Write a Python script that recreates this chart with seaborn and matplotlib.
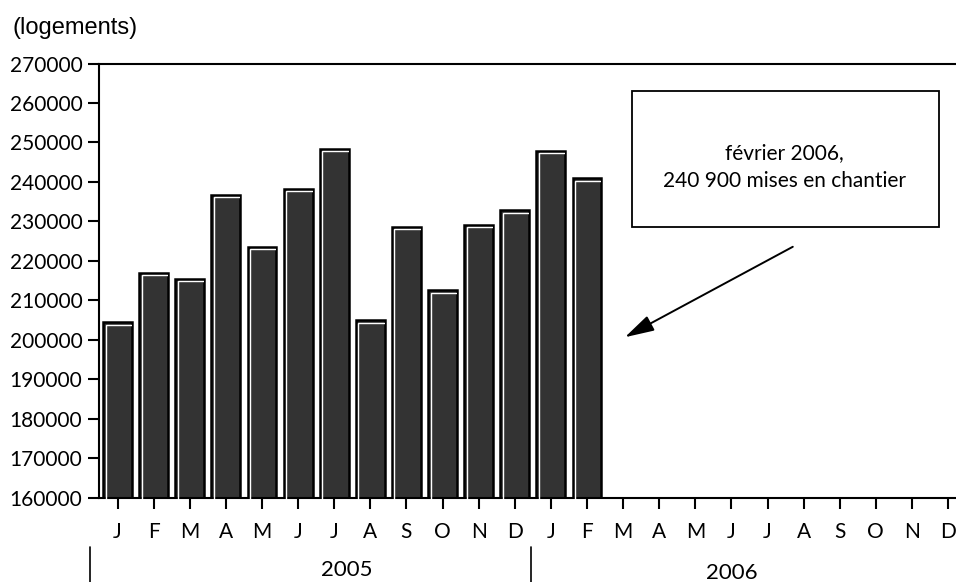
import numpy as np
import pandas as pd
import matplotlib
matplotlib.use("Agg")
import matplotlib.pyplot as plt
import matplotlib.transforms as mtrans
from matplotlib.patches import Rectangle
import seaborn as sns

# mises en chantier, cumul sur 12 mois (logements)
months = ["J", "F", "M", "A", "M", "J", "J", "A", "S", "O", "N", "D",
          "J", "F", "M", "A", "M", "J", "J", "A", "S", "O", "N", "D"]
periods = ["2005-01", "2005-02", "2005-03", "2005-04", "2005-05", "2005-06",
           "2005-07", "2005-08", "2005-09", "2005-10", "2005-11", "2005-12",
           "2006-01", "2006-02"]
values = [204500, 217000, 215500, 236700, 223600, 238300, 248400,
          205000, 228700, 212600, 229200, 232800, 247900, 240900]
years = ["2005", "2006"]
yticks = list(range(160000, 270001, 10000))

df = pd.DataFrame({"period": periods, "logements": values})

sns.set_style("white")
plt.rcParams["font.family"] = ["Lato", "DejaVu Sans"]

fig = plt.figure(figsize=(9.56, 5.82), dpi=100)
ax = fig.add_axes([99 / 956, 1 - 498 / 582, 857 / 956, 434.5 / 582])

sns.barplot(data=df, x="period", y="logements", order=periods, ax=ax,
            color="#333333", saturation=1, width=0.8,
            edgecolor="black", linewidth=1.8, zorder=2)

# white highlight on top/left of each bar
shift = mtrans.offset_copy(ax.transData, fig=fig, x=2.4, y=-2.4, units="dots")
for bar in list(ax.patches):
    hl = Rectangle(bar.get_xy(), bar.get_width(), bar.get_height(),
                   transform=shift, fill=False, edgecolor="white",
                   linewidth=1.0, zorder=3)
    ax.add_patch(hl)
    hl.set_clip_path(bar)

ax.set_ylim(160000, 270000)
ax.set_xlim(-0.515, 23.22)
ax.set_yticks(yticks)
ax.set_yticklabels([str(v) for v in yticks])
ax.set_xticks(range(len(months)))
ax.set_xticklabels(months)
ax.set_xlabel("")
ax.set_ylabel("")

for side in ["left", "top", "bottom"]:
    ax.spines[side].set_visible(True)
    ax.spines[side].set_color("black")
    ax.spines[side].set_linewidth(1.5)
ax.spines["right"].set_visible(False)

ax.tick_params(axis="y", direction="out", length=8, width=1.5, pad=4,
               labelsize=15, colors="black", left=True)
ax.tick_params(axis="x", direction="out", length=8, width=1.5, pad=9,
               labelsize=15, colors="black", bottom=True)

# year separators and labels under the months
trans = mtrans.blended_transform_factory(ax.transData, ax.transAxes)
for xsep in [-0.77, 11.45]:
    ax.plot([xsep, xsep], [-0.113, -0.2], transform=trans, color="black",
            lw=1.2, clip_on=False)
ax.text(6.35, -0.165, years[0], transform=trans, ha="center", va="center",
        fontsize=16, color="black")
ax.text(17.0, -0.172, years[1], transform=trans, ha="center", va="center",
        fontsize=16, color="black")

fig.text(12 / 956, 1 - 28 / 582, "(logements)", ha="left", va="center",
         fontsize=17, color="black",
         family=["Liberation Sans", "DejaVu Sans"])

# annotation box + arrow
ax.add_patch(Rectangle((0.622, 0.6244), 0.358, 0.313, transform=ax.transAxes,
                       fill=False, edgecolor="black", linewidth=1.3,
                       zorder=4, clip_on=False))
ax.text(0.800, 0.762, "février 2006,\n240 900 mises en chantier",
        transform=ax.transAxes, ha="center", va="center", fontsize=15,
        linespacing=1.45, color="black", zorder=5)
ax.annotate("", xy=(14.05, 200700), xytext=(18.7, 223600),
            arrowprops=dict(arrowstyle="-|>,head_length=0.9,head_width=0.25",
                            mutation_scale=20, lw=1.4, color="black",
                            shrinkA=0, shrinkB=0))

fig.savefig("out.png", dpi=100)
